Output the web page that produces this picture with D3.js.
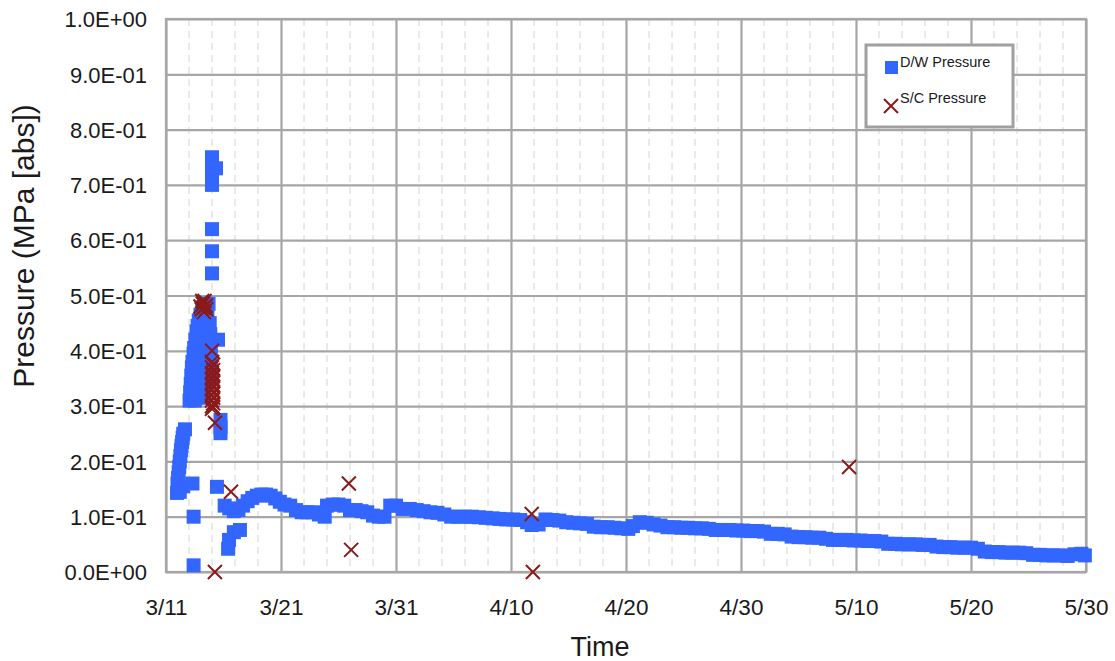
<!DOCTYPE html>
<html><head><meta charset="utf-8">
<script src="https://cdn.jsdelivr.net/npm/d3@7"></script>
<style>
html,body{margin:0;padding:0;background:#fff;}
svg{display:block;font-family:Arial,"Liberation Sans",sans-serif;}
</style></head>
<body><svg id="chart" width="1115" height="661"></svg>
<script>
// ---- data (days after 3/11 00:00, pressure MPa abs) ----
const startDate = new Date(2011, 2, 11);
const xTickLabels = ["3/11","3/21","3/31","4/10","4/20","4/30","5/10","5/20","5/30"];
const yTickLabels = ["0.0E+00","1.0E-01","2.0E-01","3.0E-01","4.0E-01","5.0E-01","6.0E-01","7.0E-01","8.0E-01","9.0E-01","1.0E+00"];

const dwDays = [
 0.96,1.2,1.5,1.0,1.1,1.2,1.3,1.4,1.5,1.65,1.05,1.15,1.25,1.35,1.45,
 2.3,2.4,2.4,
 2.05,2.1,2.15,2.2,2.25,2.3,2.4,2.45,2.55,2.65,2.75,2.85,3.0,3.15,3.3,3.5,3.7,
 2.5,2.7,2.6,2.8,2.7,2.9,3.0,3.2,3.2,3.4,3.6,3.8,3.85,3.9,3.9,3.9,3.9,2.9,3.1,3.3,3.5,
 3.3,3.5,3.4,3.6,3.2,3.0,2.3,2.35,
 4.52,
 4.0,4.0,4.0,4.0,4.0,4.0,4.0,4.35,4.0,4.0,4.0,
 4.74,4.74,4.74,4.43,
 5.4,5.48,5.9,6.43,
 5.1,5.5,5.9,6.3,6.7,7.1,7.5,7.9,8.3,8.7,9.1,9.5,9.9,10.3,10.8,11.3,11.8,12.3,12.8,13.3,13.8,
 14.0,14.5,15.0,15.5,16.0,16.5,17.0,17.5,18.0,18.5,19.0,19.5,20.0,20.6,21.2,21.8,22.4,23.0,23.6,
 24.2,24.8,25.4,26.0,26.6,27.2,27.8,28.4,29.0,29.6,30.2,30.8,31.4,31.8,32.4,33.0,33.6,34.2,34.8,
 35.4,36.0,36.6,37.2,37.8,38.4,39.0,39.6,40.2,40.6,41.2,41.8,42.4,43.0,43.6,44.2,44.8,45.4,46.0,
 46.6,47.2,47.8,48.4,49.0,49.6,50.2,50.8,51.4,52.0,52.6,53.2,53.8,54.4,55.0,55.6,56.2,56.8,57.4,
 58.0,58.6,59.2,59.8,60.4,61.0,61.6,62.2,62.8,63.4,64.0,64.6,65.2,65.8,66.4,67.0,67.6,68.2,68.8,
 69.4,70.0,70.6,71.2,71.8,72.4,73.0,73.6,74.2,74.8,75.4,76.0,76.6,77.2,77.8,78.4,79.0,79.6,79.9
];
const dwPressure = [
 0.143,0.145,0.155,0.16,0.18,0.2,0.22,0.235,0.25,0.258,0.17,0.19,0.21,0.228,0.243,
 0.16,0.10,0.012,
 0.31,0.325,0.34,0.355,0.37,0.38,0.395,0.405,0.42,0.435,0.445,0.455,0.465,0.475,0.48,0.485,0.485,
 0.31,0.32,0.35,0.36,0.39,0.40,0.42,0.43,0.45,0.46,0.465,0.45,0.43,0.41,0.39,0.37,0.35,0.34,0.38,0.41,0.44,
 0.32,0.34,0.37,0.39,0.35,0.315,0.33,0.36,
 0.42,
 0.75,0.745,0.74,0.73,0.72,0.71,0.70,0.73,0.62,0.58,0.54,
 0.275,0.262,0.251,0.154,
 0.042,0.058,0.072,0.076,
 0.12,0.115,0.11,0.112,0.12,0.128,0.134,0.138,0.14,0.14,0.138,0.133,0.127,0.122,0.12,0.112,0.108,0.108,0.108,0.104,0.10,
 0.12,0.122,0.122,0.12,0.112,0.112,0.11,0.108,0.102,0.10,0.10,0.12,0.12,0.114,0.114,0.112,0.11,0.108,0.107,
 0.104,0.10,0.10,0.10,0.10,0.099,0.098,0.097,0.096,0.095,0.095,0.094,0.09,0.085,0.086,0.095,0.094,0.093,0.09,
 0.089,0.088,0.087,0.082,0.081,0.081,0.08,0.079,0.078,0.083,0.09,0.089,0.086,0.084,0.081,0.081,0.08,0.08,0.079,
 0.079,0.078,0.076,0.076,0.076,0.075,0.075,0.074,0.074,0.073,0.069,0.069,0.068,0.064,0.063,0.063,0.062,0.062,0.06,
 0.058,0.058,0.058,0.057,0.057,0.056,0.056,0.055,0.051,0.051,0.05,0.05,0.05,0.049,0.049,0.046,0.045,0.045,0.044,
 0.044,0.044,0.042,0.037,0.036,0.036,0.035,0.035,0.035,0.034,0.031,0.031,0.03,0.03,0.03,0.029,0.032,0.033,0.03
];

const scDays = [3.0,3.1,3.2,3.3,3.4,3.5,3.15,3.35,3.25,3.45,
 4.0,
 4.0,4.1,4.0,4.1,4.0,4.1,4.0,4.1,4.0,4.1,4.0,4.1,4.0,4.1,4.0,4.1,4.0,4.1,4.0,
 4.26,4.25,5.65,15.9,16.1,31.8,31.9,59.4];
const scPressure = [0.48,0.475,0.485,0.47,0.48,0.475,0.49,0.49,0.478,0.482,
 0.40,
 0.38,0.375,0.37,0.365,0.36,0.355,0.35,0.345,0.34,0.335,0.33,0.325,0.32,0.315,0.31,0.305,0.30,0.298,0.295,
 0.27,0.0,0.145,0.16,0.04,0.105,0.0,0.19];

const seriesNames = ["D/W Pressure","S/C Pressure"];

// ---- layout ----
const svg = d3.select("#chart");
const L = 166, R = 1086, T = 19, B = 572;
const toDate = d => d3.timeMinute.offset(startDate, Math.round(d*1440));
const x = d3.scaleTime().domain([startDate, d3.timeDay.offset(startDate, 80)]).range([L, R]);
const y = d3.scaleLinear().domain([0, 1]).range([B, T]);

const blue = "#3366ff", red = "#8b1a1a", gridMajor = "#a6a6a6", gridMinor = "#d4d4d4";

// minor vertical dashed gridlines every 2 days
const minorTicks = d3.range(0, 81, 2).filter(d => d % 10 !== 0).map(d => d3.timeDay.offset(startDate, d));
svg.append("g").selectAll("line").data(minorTicks).join("line")
  .attr("x1", d => x(d)).attr("x2", d => x(d)).attr("y1", T).attr("y2", B)
  .attr("stroke", gridMinor).attr("stroke-width", 1).attr("stroke-dasharray", "7,5");

// major x ticks
const majorX = xTickLabels.map((t, i) => d3.timeDay.offset(startDate, i*10));
const xAxis = d3.axisBottom(x).tickValues(majorX).tickSize(-(B-T)).tickFormat((d, i) => xTickLabels[i]);
const gx = svg.append("g").attr("transform", `translate(0,${B})`).call(xAxis);
gx.select(".domain").remove();
gx.selectAll(".tick line").attr("stroke", gridMajor).attr("stroke-width", 2.2);
gx.selectAll(".tick text").attr("y", 43).attr("dy", 0).attr("font-size", 22.5).attr("fill", "#1a1a1a")
  .attr("font-family", "Arial, 'Liberation Sans', sans-serif");

const yTicks = yTickLabels.map((t, i) => i/10);
const yAxis = d3.axisLeft(y).tickValues(yTicks).tickSize(-(R-L)).tickFormat((d, i) => yTickLabels[i]);
const gy = svg.append("g").attr("transform", `translate(${L},0)`).call(yAxis);
gy.select(".domain").remove();
gy.selectAll(".tick line").attr("stroke", gridMajor).attr("stroke-width", 2.2);
gy.selectAll(".tick text").attr("x", -19).attr("dy", "0.35em").attr("font-size", 22).attr("fill", "#1a1a1a")
  .attr("font-family", "Arial, 'Liberation Sans', sans-serif");

// border
svg.append("rect").attr("x", L).attr("y", T).attr("width", R-L).attr("height", B-T)
  .attr("fill", "none").attr("stroke", gridMajor).attr("stroke-width", 2.2);

// D/W squares
const sq = 14;
svg.append("g").selectAll("rect").data(dwDays.map((d, i) => [d, dwPressure[i]])).join("rect")
  .attr("x", d => x(toDate(d[0])) - sq/2).attr("y", d => y(d[1]) - sq/2)
  .attr("width", sq).attr("height", sq).attr("fill", blue);

// S/C crosses
const cr = 7;
const crossPath = (cx, cy) => `M${cx-cr},${cy-cr}L${cx+cr},${cy+cr}M${cx-cr},${cy+cr}L${cx+cr},${cy-cr}`;
svg.append("g").selectAll("path").data(scDays.map((d, i) => [d, scPressure[i]])).join("path")
  .attr("d", d => crossPath(x(toDate(d[0])), y(d[1])))
  .attr("stroke", red).attr("stroke-width", 2).attr("fill", "none");

// axis titles
svg.append("text").attr("x", 600).attr("y", 656).attr("text-anchor", "middle")
  .attr("font-size", 27).attr("fill", "#1a1a1a").text("Time");
svg.append("text").attr("transform", "translate(34,246) rotate(-90)").attr("text-anchor", "middle")
  .attr("font-size", 30).attr("fill", "#1a1a1a").text("Pressure (MPa [abs])");

// legend
const lg = svg.append("g");
lg.append("rect").attr("x", 866).attr("y", 45).attr("width", 147).attr("height", 82)
  .attr("fill", "#fff").attr("stroke", "#a0a0a0").attr("stroke-width", 3);
lg.append("rect").attr("x", 891 - sq/2 + 1).attr("y", 67 - sq/2 + 1).attr("width", sq-1).attr("height", sq-1).attr("fill", blue);
lg.append("path").attr("d", crossPath(891, 106)).attr("stroke", red).attr("stroke-width", 2);
lg.append("text").attr("x", 900).attr("y", 67).attr("font-size", 14.5).attr("fill", "#1a1a1a").text(seriesNames[0]);
lg.append("text").attr("x", 900).attr("y", 103).attr("font-size", 14.5).attr("fill", "#1a1a1a").text(seriesNames[1]);
</script></body></html>
